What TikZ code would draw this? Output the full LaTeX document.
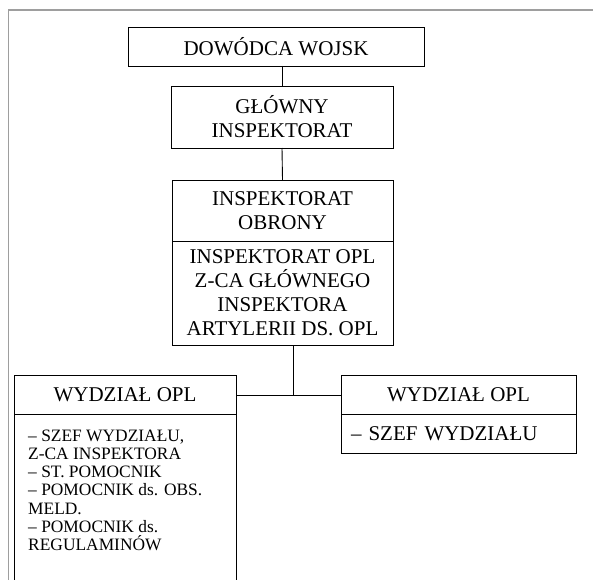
\documentclass[tikz,border=0pt]{standalone}
\usepackage{fontspec}
\setmainfont{Liberation Serif}
\usetikzlibrary{positioning}

\begin{document}
\begin{tikzpicture}[x=1pt, y=-1pt, node distance=20pt,
 bignode/.style={rectangle, draw=black, line width=0.9pt, outer sep=0pt, inner sep=0pt, align=center, font=\fontsize{21}{24}\selectfont},
 listnode/.style={rectangle, inner sep=0pt, align=left, font=\fontsize{17.4}{18.2}\selectfont},
 framegray/.style={draw=black!38, line width=1.4pt}, ]

                \useasboundingbox (0,0) rectangle (593,580);
                \draw [framegray] (593,10) -- (8.5,10) -- (8.5,580);
                \coordinate (bottom) at (0,580);

                \node [bignode, minimum width=296pt, minimum height=39pt] (1) at (276,46.5) {DOWÓDCA WOJSK};
                \node [bignode, minimum width=222pt, minimum height=62pt] (2) [below=20pt of 1, xshift=6pt] {GŁÓWNY\\INSPEKTORAT};
                \node [bignode, minimum width=221pt, minimum height=61pt] (3) [below=32pt of 2, xshift=0.5pt] {INSPEKTORAT\\OBRONY};
                \node [bignode, minimum width=221pt, minimum height=104pt] (4) [below=0pt of 3] {INSPEKTORAT OPL\\Z-CA GŁÓWNEGO\\INSPEKTORA\\ARTYLERII DS. OPL};

                \node [bignode, minimum width=222pt, minimum height=39pt] (5) at (125,395) {WYDZIAŁ OPL};
                \node [listnode, anchor=north west] (6) at ([xshift=14pt, yshift=-15pt]5.south west) {– SZEF WYDZIAŁU,\\Z-CA INSPEKTORA\\– ST. POMOCNIK\\– POMOCNIK ds. OBS.\\MELD.\\– POMOCNIK ds.\\REGULAMINÓW};
                \node [bignode, minimum width=235pt, minimum height=39pt] (7) at (458.5,395) {WYDZIAŁ OPL};
                \node [bignode, minimum width=235pt, minimum height=39pt, text width=215pt, align=left] (8) [below=0pt of 7] {– SZEF WYDZIAŁU};

                \coordinate (j) at (293,395);

                 \path [-,black,line width=0.9pt] (2.north |- 1.south) edge (2.north)
                                                (3.north) edge (2.south)
                                                (4.south -| j) edge (j)
                                                (5.east) edge (7.west);
                 \draw [line width=0.9pt] (5.south west) -- (5.south west |- bottom)
                                          (5.south east) -- (5.south east |- bottom);
\end{tikzpicture}
\end{document}
